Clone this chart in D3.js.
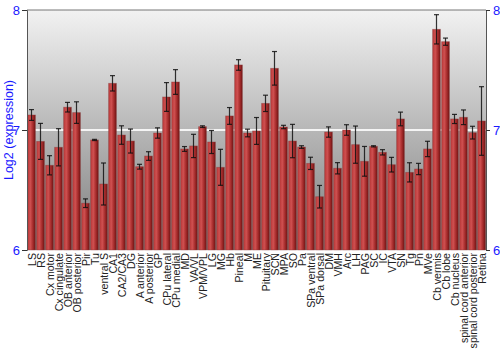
<!DOCTYPE html>
<html>
<head>
<meta charset="utf-8">
<script src="https://cdn.jsdelivr.net/npm/d3@7"></script>
<style>
  body { margin: 0; background: #fff; }
  text { font-family: "Liberation Sans", Arial, sans-serif; }
</style>
</head>
<body>
<div id="chart"></div>
<script>
// tissue names, one per bar
var tissues = ["LS", "RS", "Cx motor", "Cx cingulate", "OB anterior", "OB posterior", "Pir", "Tu",
  "ventral S", "CA1", "CA2/CA3", "DG", "A anterior", "A posterior", "GP", "CPu lateral",
  "CPu medial", "MD", "VA/VL", "VPM/VPL", "LG", "MG", "Hb", "Pineal", "M", "ME", "Pituitary",
  "SCN", "MPA", "SO", "Pa", "SPa ventral", "SPa dorsal", "DM", "VMH", "Arc", "LH", "PAG",
  "SC", "IC", "VTA", "SN", "Tg", "Pn", "MVe", "Cb vermis", "Cb lobe", "Cb nucleus",
  "spinal cord anterior", "spinal cord posterior", "Retina"];

// mean log2 expression
var means = [7.125, 6.905, 6.706, 6.856, 7.19, 7.145, 6.39, 6.917,
  6.55, 7.389, 6.958, 6.908, 6.694, 6.783, 6.975, 7.275,
  7.40, 6.842, 6.867, 7.028, 6.90, 6.689, 7.117, 7.542, 6.975, 6.992, 7.222,
  7.514, 7.025, 6.908, 6.858, 6.722, 6.444, 6.983, 6.681, 7.0, 6.878, 6.739,
  6.864, 6.814, 6.711, 7.092, 6.647, 6.675, 6.842, 7.839, 7.736, 7.092,
  7.106, 6.978, 7.075];

// half length of the error bars
var errs = [0.045, 0.15, 0.08, 0.155, 0.04, 0.09, 0.036, 0.005,
  0.175, 0.064, 0.077, 0.10, 0.02, 0.036, 0.043, 0.12,
  0.103, 0.02, 0.097, 0.007, 0.096, 0.15, 0.07, 0.044, 0.032, 0.112, 0.068,
  0.14, 0.014, 0.139, 0.011, 0.051, 0.094, 0.043, 0.047, 0.044, 0.155, 0.124,
  0.005, 0.022, 0.061, 0.057, 0.08, 0.047, 0.064, 0.122, 0.03, 0.038,
  0.061, 0.053, 0.286];

var yTicks = [6, 7, 8];

var W = 500, H = 350;
var pL = 27, pR = 486, pT = 10, pB = 250;
var blue = "#1a1aff";

var data = tissues.map(function (t, i) { return { name: t, v: means[i], e: errs[i] }; });

var svg = d3.select("#chart").append("svg")
  .attr("width", W).attr("height", H);

var defs = svg.append("defs");

// plot background: light at top, grey at bottom
var bg = defs.append("linearGradient").attr("id", "bgGrad")
  .attr("x1", 0).attr("y1", 0).attr("x2", 0).attr("y2", 1);
bg.append("stop").attr("offset", "0%").attr("stop-color", "#f2f2f2");
bg.append("stop").attr("offset", "100%").attr("stop-color", "#7c7c7c");

// bar shading, left to right
var bg2 = defs.append("linearGradient").attr("id", "barGrad")
  .attr("x1", 0).attr("y1", 0).attr("x2", 1).attr("y2", 0);
bg2.append("stop").attr("offset", "0%").attr("stop-color", "#b83838");
bg2.append("stop").attr("offset", "35%").attr("stop-color", "#cf5050");
bg2.append("stop").attr("offset", "70%").attr("stop-color", "#a42a2a");
bg2.append("stop").attr("offset", "100%").attr("stop-color", "#6e1616");

var x = d3.scaleBand().domain(tissues).range([pL, pR]).paddingInner(0.14).paddingOuter(0.07);
var y = d3.scaleLinear().domain([6, 8]).range([pB, pT]);

svg.append("rect")
  .attr("x", pL).attr("y", pT)
  .attr("width", pR - pL).attr("height", pB - pT)
  .attr("fill", "url(#bgGrad)");

// white line at 7
svg.append("line")
  .attr("x1", pL).attr("x2", pR)
  .attr("y1", y(7)).attr("y2", y(7))
  .attr("stroke", "#f4f4f4").attr("stroke-width", 2);

// bars
svg.selectAll(".bar").data(data).enter().append("rect")
  .attr("class", "bar")
  .attr("x", function (d) { return x(d.name); })
  .attr("y", function (d) { return y(d.v); })
  .attr("width", x.bandwidth())
  .attr("height", function (d) { return pB - y(d.v); })
  .attr("fill", "url(#barGrad)")
  .attr("stroke", "#8a3a3a").attr("stroke-opacity", 0.5).attr("stroke-width", 0.8);

// error bars
var eb = svg.selectAll(".err").data(data).enter().append("g")
  .attr("class", "err")
  .attr("stroke", "#111").attr("stroke-opacity", 0.85).attr("stroke-width", 1.2);
eb.append("line")
  .attr("x1", function (d) { return x(d.name) + x.bandwidth() / 2; })
  .attr("x2", function (d) { return x(d.name) + x.bandwidth() / 2; })
  .attr("y1", function (d) { return y(d.v + d.e); })
  .attr("y2", function (d) { return y(d.v - d.e); });
[1, -1].forEach(function (s) {
  eb.append("line")
    .attr("x1", function (d) { return x(d.name) + x.bandwidth() / 2 - 2.5; })
    .attr("x2", function (d) { return x(d.name) + x.bandwidth() / 2 + 2.5; })
    .attr("y1", function (d) { return y(d.v + s * d.e); })
    .attr("y2", function (d) { return y(d.v + s * d.e); });
});

// frame
svg.append("line").attr("x1", pL).attr("x2", pR).attr("y1", pT).attr("y2", pT)
  .attr("stroke", "#777").attr("stroke-width", 1);

// left and right axes
var axL = svg.append("g").attr("transform", "translate(" + pL + ",0)")
  .call(d3.axisLeft(y).tickValues(yTicks).tickFormat(d3.format("d")).tickSize(5).tickPadding(2));
var axR = svg.append("g").attr("transform", "translate(" + pR + ",0)")
  .call(d3.axisRight(y).tickValues(yTicks).tickFormat(d3.format("d")).tickSize(4).tickPadding(3));
[axL, axR].forEach(function (ax) {
  ax.select(".domain").attr("stroke", "#555");
  ax.selectAll(".tick line").attr("stroke", "#333");
  ax.selectAll(".tick text").attr("fill", blue).style("font-size", "13px")
    .style("font-family", "'Liberation Sans', Arial, sans-serif");
});

// category labels
svg.selectAll(".lab").data(data).enter().append("text")
  .attr("class", "lab")
  .attr("transform", function (d) {
    return "translate(" + (x(d.name) + x.bandwidth() / 2 + 4) + "," + (pB + 3) + ") rotate(-90)";
  })
  .attr("text-anchor", "end")
  .attr("fill", "#222")
  .style("font-size", "10.6px")
  .text(function (d) { return d.name; });

// y title
svg.append("text")
  .attr("transform", "translate(13," + ((pT + pB) / 2) + ") rotate(-90)")
  .attr("text-anchor", "middle")
  .attr("fill", blue)
  .style("font-size", "12.5px")
  .text("Log2 (expression)");
</script>
</body>
</html>
